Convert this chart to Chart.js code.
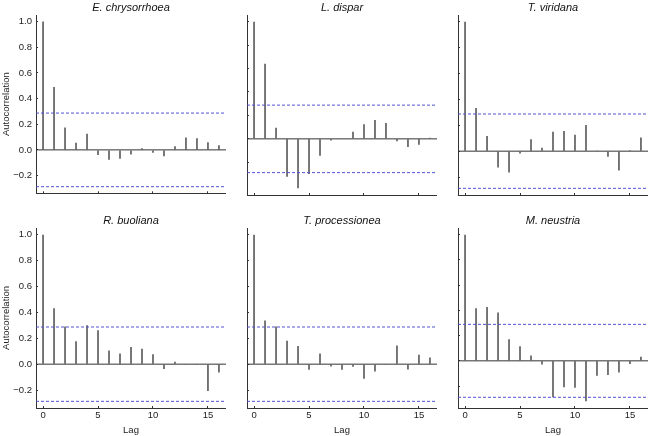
<!DOCTYPE html>
<html lang="en">
  <head>
    <meta charset="UTF-8" />
    <title>Autocorrelation by species</title>
    <script src="https://cdn.jsdelivr.net/npm/chart.js"></script>
    <style>
      body {
        margin: 0;
        background: #fff;
      }
      #wrap {
        position: relative;
        width: 649px;
        height: 436px;
      }
      #wrap canvas {
        position: absolute;
      }
    </style>
  </head>
  <body>
    <div id="wrap"></div>
    <script>
      // lags 0..16, acf values
      const lags = [0, 1, 2, 3, 4, 5, 6, 7, 8, 9, 10, 11, 12, 13, 14, 15, 16];
      const lagTicks = [0, 5, 10, 15];
      const acfTicks = [-0.2, 0, 0.2, 0.4, 0.6, 0.8, 1.0];

      const species = [
        "E. chrysorrhoea",
        "L. dispar",
        "T. viridana",
        "R. buoliana",
        "T. processionea",
        "M. neustria",
      ];

      const chrysorrhoea = [1.0, 0.49, 0.174, 0.056, 0.126, -0.04, -0.077, -0.069, -0.036, 0.013, -0.023, -0.05, 0.028, 0.097, 0.09, 0.059, 0.036];
      const dispar = [1.0, 0.64, 0.094, -0.323, -0.422, -0.3, -0.145, -0.014, 0.006, 0.06, 0.125, 0.16, 0.136, -0.02, -0.07, -0.05, 0.01];
      const viridana = [1.0, 0.333, 0.118, -0.126, -0.164, -0.018, 0.092, 0.026, 0.149, 0.156, 0.126, 0.203, 0.005, -0.044, -0.149, 0.008, 0.105];
      const buoliana = [1.0, 0.431, 0.29, 0.177, 0.3, 0.262, 0.105, 0.082, 0.133, 0.12, 0.077, -0.038, 0.018, -0.003, -0.003, -0.208, -0.064];
      const processionea = [1.0, 0.338, 0.29, 0.18, 0.141, -0.044, 0.082, -0.018, -0.044, -0.02, -0.113, -0.056, -0.003, 0.144, -0.041, 0.072, 0.051];
      const neustria = [1.0, 0.416, 0.426, 0.384, 0.171, 0.116, 0.042, -0.029, -0.289, -0.21, -0.213, -0.321, -0.118, -0.113, -0.092, -0.026, 0.032];

      const acfSeries = [chrysorrhoea, dispar, viridana, buoliana, processionea, neustria];
      // +/- confidence limit (dashed blue lines)
      const ciLimits = [0.287, 0.288, 0.287, 0.287, 0.287, 0.289];

      // panel geometry
      const plotLeft = [36, 247, 458];
      const plotTop = [15, 228];
      const plotH = [180, 180];
      const plotW = 190;
      const axisW = 36;
      const titleH = 15;
      const bottomH = [10, 28];

      const ink = "#333";
      const spike = "#1e1e1e";
      const ciColor = "#5252d4";
      Chart.defaults.font.family = "'Liberation Sans', Arial, sans-serif";
      Chart.defaults.color = "#222";

      const wrap = document.getElementById("wrap");

      function fmtAcf(v) {
        if (Math.abs(v) < 1e-9) return "0.0";
        return (v < 0 ? "\u2212" : "") + Math.abs(v).toFixed(1);
      }

      species.forEach((name, i) => {
        const col = i % 3;
        const row = Math.floor(i / 3);
        const acf = acfSeries[i];
        const ci = ciLimits[i];

        // R-style range: data and limits, widened by 4% each side
        const lo = Math.min(-ci, ...acf);
        const hi = Math.max(ci, ...acf);
        const yPad = (hi - lo) * 0.04;
        const xLo = lags[0], xHi = lags[lags.length - 1];
        const xPad = (xHi - xLo) * 0.04;

        const canvas = document.createElement("canvas");
        const w = axisW + plotW;
        const h = titleH + plotH[row] + bottomH[row];
        canvas.width = w;
        canvas.height = h;
        canvas.style.width = w + "px";
        canvas.style.height = h + "px";
        canvas.style.left = plotLeft[col] - axisW + "px";
        canvas.style.top = plotTop[row] - titleH + "px";
        wrap.appendChild(canvas);

        const hLine = (y) => [
          { x: xLo - xPad, y: y },
          { x: xHi + xPad, y: y },
        ];

        new Chart(canvas.getContext("2d"), {
          type: "bar",
          data: {
            datasets: [
              {
                type: "line",
                data: hLine(ci),
                borderColor: ciColor,
                borderWidth: 1,
                borderDash: [3, 2],
                pointRadius: 0,
              },
              {
                type: "line",
                data: hLine(-ci),
                borderColor: ciColor,
                borderWidth: 1,
                borderDash: [3, 2],
                pointRadius: 0,
              },
              {
                type: "line",
                data: hLine(0),
                borderColor: ink,
                borderWidth: 1,
                pointRadius: 0,
              },
              {
                data: lags.map((l, k) => ({ x: l, y: acf[k] })),
                backgroundColor: spike,
                barThickness: 1.2,
                inflateAmount: 0,
                borderWidth: 0,
              },
            ],
          },
          options: {
            responsive: false,
            animation: false,
            devicePixelRatio: 1,
            layout: { padding: 0 },
            plugins: {
              legend: { display: false },
              tooltip: { enabled: false },
              title: {
                display: true,
                text: name,
                fullSize: false,
                color: "#111",
                font: { size: 11, style: "italic", weight: "normal", lineHeight: "13px" },
                padding: { top: 1, bottom: 1 },
              },
            },
            scales: {
              x: {
                type: "linear",
                offset: false,
                min: xLo - xPad,
                max: xHi + xPad,
                afterBuildTicks: (s) => {
                  s.ticks = lagTicks.map((v) => ({ value: v }));
                },
                afterFit: (s) => {
                  s.height = bottomH[row];
                },
                grid: {
                  offset: false,
                  drawOnChartArea: false,
                  drawTicks: true,
                  tickLength: -2,
                  color: ink,
                },
                border: { display: true, color: ink, width: 1 },
                ticks: {
                  display: row === 1,
                  padding: 4,
                  maxRotation: 0,
                  autoSkip: false,
                  color: "#222",
                  font: { size: 9.5 },
                },
                title: {
                  display: row === 1,
                  text: "Lag",
                  color: "#222",
                  font: { size: 9.5 },
                  padding: { top: 0, bottom: 0 },
                },
              },
              y: {
                min: lo - yPad,
                max: hi + yPad,
                afterBuildTicks: (s) => {
                  s.ticks = acfTicks.map((v) => ({ value: v }));
                },
                afterFit: (s) => {
                  s.width = axisW;
                },
                grid: {
                  drawOnChartArea: false,
                  drawTicks: true,
                  tickLength: -2,
                  color: ink,
                },
                border: { display: true, color: ink, width: 1 },
                ticks: {
                  display: col === 0,
                  padding: 6,
                  autoSkip: false,
                  color: "#222",
                  font: { size: 9.5 },
                  callback: (v) => fmtAcf(v),
                },
                title: {
                  display: col === 0,
                  text: "Autocorrelation",
                  color: "#222",
                  font: { size: 9.5 },
                  padding: { top: 1, bottom: 0 },
                },
              },
            },
          },
        });
      });
    </script>
  </body>
</html>
